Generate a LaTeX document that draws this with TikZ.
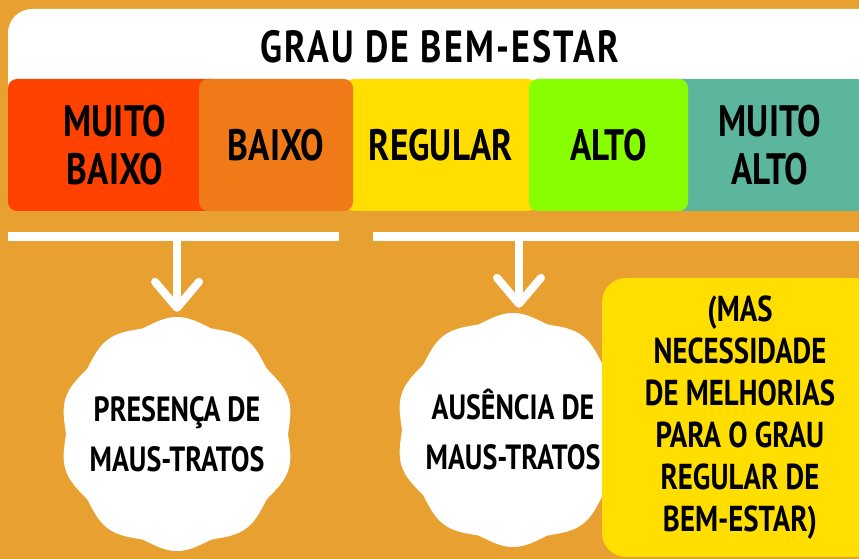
\documentclass[tikz,border=0pt]{standalone}
\usepackage{fontspec}
\setmainfont{PT Sans}[FakeStretch=0.8]
\usetikzlibrary{arrows.meta, positioning}
\definecolor{bgorange}{RGB}{232,160,48}
\definecolor{lvlred}{RGB}{255,66,0}
\definecolor{lvlorange}{RGB}{240,122,24}
\definecolor{lvlyellow}{RGB}{255,222,0}
\definecolor{lvlgreen}{RGB}{136,255,0}
\definecolor{lvlteal}{RGB}{92,182,158}
\begin{document}
\begin{tikzpicture}[
        x=1pt, y=1pt,
        level/.style={rectangle, rounded corners=9pt, minimum height=132pt, inner sep=0pt,
                      align=center, font=\bfseries\fontsize{44}{48}\selectfont},
        title/.style={font=\bfseries\fontsize{45}{48}\selectfont\addfontfeature{LetterSpace=5}},
        badge/.style={circle, minimum size=234pt, inner sep=0pt, align=center,
                      font=\bfseries\fontsize{35}{50}\selectfont},
        scallop/.style={fill=white},
        note/.style={rectangle, fill=lvlyellow, rounded corners=24pt, inner sep=0pt,
                     minimum width=276pt, minimum height=279pt, align=center,
                     font=\bfseries\fontsize{36}{42}\selectfont},
        bar/.style={draw=white, line width=9pt},
        arrow/.style={draw=white, line width=8pt, line cap=round, shorten >=5pt,
                      -{Straight Barb[length=26pt, width=44pt, round]}}
    ]
        \useasboundingbox (0,0) rectangle (859,559);
        \fill[bgorange] (0,0) rectangle (859,559);

        % title panel
        \fill[white, rounded corners=24pt] (8,550) rectangle (884,359);
        \node[title] (grau) at (440,512) {GRAU DE BEM-ESTAR};

        % levels (back row first)
        \node[level, fill=lvlred, minimum width=214pt] (muitobaixo) at (115,414) {MUITO\\BAIXO};
        \node[level, fill=lvlyellow, minimum width=192pt] (regular) at (441,414) {REGULAR};
        \node[level, fill=lvlteal, minimum width=192pt] (muitoalto) at (770,414) {MUITO\\ALTO};
        \node[level, fill=lvlorange, minimum width=154pt] (baixo) at (276,414) {BAIXO};
        \node[level, fill=lvlgreen, minimum width=159pt] (alto) at (608.5,414) {ALTO};

        % bars
        \coordinate (barLw) at (8,322);
        \coordinate (barLe) at (339,322);
        \coordinate (barRw) at (373,322);
        \coordinate (barRe) at (870,322);
        \draw[bar] (barLw) -- (barLe);
        \draw[bar] (barRw) -- (barRe);
        \coordinate (forkL) at (177,322);
        \coordinate (forkR) at (519,322);

        % outcomes
        \coordinate (presencaC) at (177,125);
        \coordinate (ausenciaC) at (513,129);
        \foreach \c in {presencaC, ausenciaC}
            \fill[scallop, shift={(\c)}] plot[domain=0:360, samples=361]
                (\x:{111+6*(0.5*abs(sin(5*\x))+0.25*(1-cos(10*\x)))}) -- cycle;
        \node[badge] (presenca) at (presencaC) {PRESENÇA DE\\MAUS-TRATOS};
        \node[badge] (ausencia) at (ausenciaC) {AUSÊNCIA DE\\MAUS-TRATOS};
        \node[note] (melhorias) at (740,141.5) {(MAS\\NECESSIDADE\\DE MELHORIAS\\PARA O GRAU\\REGULAR DE\\BEM-ESTAR)};

        \draw[arrow] (forkL) -- (presenca.north);
        \draw[arrow] (forkR) -- (forkR |- ausencia.north);
    \end{tikzpicture}
\end{document}
